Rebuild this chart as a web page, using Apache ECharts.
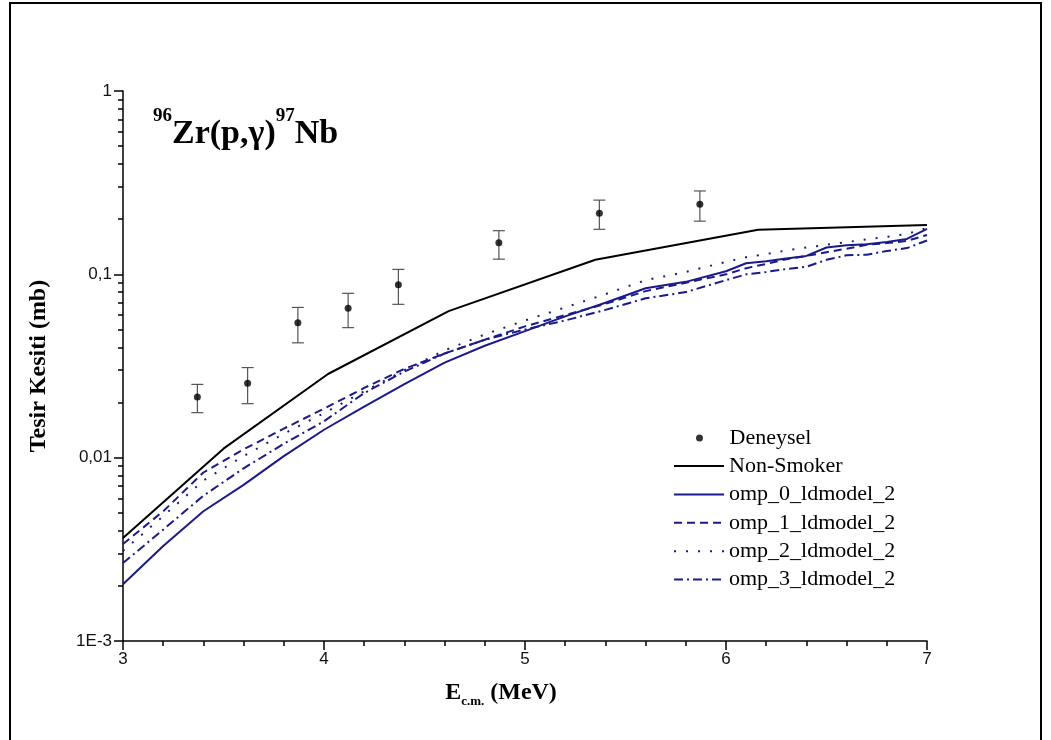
<!DOCTYPE html>
<html>
<head>
<meta charset="utf-8">
<script src="https://cdn.jsdelivr.net/npm/echarts@6/dist/echarts.min.js"></script>
<style>
  html, body { margin: 0; padding: 0; background: #fff; }
  #chart { width: 1051px; height: 740px; }
</style>
</head>
<body>
<div id="chart"></div>
<script>
// deneysel veriler (Deneysel)
var expX = [3.37, 3.62, 3.87, 4.12, 4.37, 4.87, 5.37, 5.87];
var expY = [0.0214, 0.0255, 0.0545, 0.0653, 0.0877, 0.1486, 0.2155, 0.241];
var expLo = [0.0176, 0.0197, 0.0423, 0.0512, 0.0686, 0.121, 0.176, 0.195];
var expHi = [0.0251, 0.031, 0.066, 0.0788, 0.1064, 0.173, 0.254, 0.285];

// Non-Smoker
var nsX = [3.0, 3.5, 4.02, 4.62, 5.35, 6.16, 7.0];
var nsY = [0.00365, 0.0112, 0.0286, 0.063, 0.120, 0.175, 0.186];

// TALYS hesaplari
var talysX = [3.0, 3.2, 3.4, 3.6, 3.8, 4.0, 4.2, 4.4, 4.6, 4.8, 5.0, 5.2, 5.4, 5.6, 5.8, 6.0, 6.1, 6.2, 6.3, 6.4, 6.5, 6.6, 6.7, 6.8, 6.9, 7.0];
var omp0 = [0.00204, 0.0033, 0.0051, 0.0071, 0.0102, 0.0142, 0.0190, 0.0252, 0.0330, 0.0408, 0.0490, 0.0590, 0.0700, 0.0840, 0.0910, 0.1040, 0.1150, 0.1180, 0.1220, 0.1260, 0.1400, 0.1440, 0.1460, 0.1500, 0.1560, 0.1770];
var omp1 = [0.00338, 0.0051, 0.0083, 0.0111, 0.0144, 0.0185, 0.0240, 0.0305, 0.0370, 0.0440, 0.0520, 0.0600, 0.0690, 0.0810, 0.0900, 0.1000, 0.1080, 0.1140, 0.1210, 0.1260, 0.1320, 0.1380, 0.1450, 0.1480, 0.1520, 0.1640];
var omp2 = [0.0031, 0.0048, 0.0075, 0.0102, 0.0135, 0.0175, 0.0230, 0.0300, 0.0385, 0.0470, 0.0560, 0.0660, 0.0780, 0.0930, 0.1030, 0.1170, 0.1240, 0.1290, 0.1350, 0.1400, 0.1450, 0.1500, 0.1550, 0.1600, 0.1660, 0.1790];
var omp3 = [0.00266, 0.00405, 0.0062, 0.00875, 0.0119, 0.0158, 0.0225, 0.0295, 0.0370, 0.0440, 0.0500, 0.0560, 0.0640, 0.0740, 0.0800, 0.0930, 0.1000, 0.1030, 0.1070, 0.1100, 0.1200, 0.1270, 0.1280, 0.1340, 0.1390, 0.1530];

var yMajor = [0.001, 0.01, 0.1, 1];
var yMinor = [0.002, 0.003, 0.004, 0.005, 0.006, 0.007, 0.008, 0.009,
              0.02, 0.03, 0.04, 0.05, 0.06, 0.07, 0.08, 0.09,
              0.2, 0.3, 0.4, 0.5, 0.6, 0.7, 0.8, 0.9];
var yLabels = { 1: '1', 0.1: '0,1', 0.01: '0,01', 0.001: '1E-3' };

var navy = '#1a1a8a';
var serif = '"Liberation Serif", "Times New Roman", serif';
var sans = '"Liberation Sans", Arial, sans-serif';

function zip(xs, ys) {
  return xs.map(function (x, i) { return [x, ys[i]]; });
}

var chart = echarts.init(document.getElementById('chart'));

var option = {
  animation: false,
  backgroundColor: '#fff',
  grid: { left: 123, right: 124, top: 91, bottom: 99 },
  graphic: [
    {
      type: 'rect',
      shape: { x: 10, y: 3, width: 1031, height: 745 },
      style: { fill: 'none', stroke: '#000', lineWidth: 2 },
      silent: true
    },
    {
      type: 'text',
      left: 153,
      top: 107,
      style: {
        text: '{sup|96}{main|Zr(p,γ)}{sup|97}{main|Nb}',
        rich: {
          sup: { fontFamily: serif, fontWeight: 'bold', fontSize: 19, lineHeight: 19, verticalAlign: 'top', fill: '#000' },
          main: { fontFamily: serif, fontWeight: 'bold', fontSize: 34, lineHeight: 54, verticalAlign: 'middle', fill: '#000' }
        }
      }
    }
  ],
  legend: [
    {
      data: ['Deneysel'],
      orient: 'vertical',
      left: 696,
      top: 427,
      padding: 0,
      itemWidth: 50,
      itemHeight: 7,
      itemGap: 8,
      textStyle: { fontFamily: serif, fontSize: 22, color: '#000' }
    },
    {
      data: ['Non-Smoker', 'omp_0_ldmodel_2', 'omp_1_ldmodel_2', 'omp_2_ldmodel_2', 'omp_3_ldmodel_2'],
      orient: 'vertical',
      left: 673,
      top: 455,
      padding: 0,
      itemWidth: 50,
      itemHeight: 14,
      itemGap: 6.4,
      itemStyle: { opacity: 0 },
      textStyle: { fontFamily: serif, fontSize: 22, color: '#000' }
    }
  ],
  xAxis: {
    type: 'value',
    min: 3,
    max: 7,
    interval: 1,
    name: '{b|E}{s|c.m.}{b| (MeV)}',
    nameLocation: 'middle',
    nameGap: 37,
    nameTextStyle: {
      padding: [0, 48, 0, 0],
      rich: {
        b: { fontFamily: serif, fontWeight: 'bold', fontSize: 24, color: '#000', lineHeight: 30, verticalAlign: 'middle' },
        s: { fontFamily: serif, fontWeight: 'bold', fontSize: 13, color: '#000', lineHeight: 13, verticalAlign: 'bottom' }
      }
    },
    axisLine: { show: true, lineStyle: { color: '#000', width: 1.5 } },
    axisTick: { show: true, length: 9, lineStyle: { color: '#000', width: 1.5 } },
    minorTick: { show: true, splitNumber: 5, length: 5, lineStyle: { color: '#000', width: 1.5 } },
    axisLabel: { fontFamily: sans, fontSize: 17, color: '#111', margin: 10 },
    splitLine: { show: false }
  },
  yAxis: [
    {
      type: 'log',
      logBase: 10,
      min: 0.001,
      max: 1,
      name: 'Tesir Kesiti (mb)',
      nameLocation: 'middle',
      nameGap: 72,
      nameTextStyle: { fontFamily: serif, fontWeight: 'bold', fontSize: 24, color: '#000' },
      axisLine: { show: true, lineStyle: { color: '#000', width: 1.5 } },
      axisTick: { show: true, length: 9, customValues: yMajor, lineStyle: { color: '#000', width: 1.5 } },
      axisLabel: {
        fontFamily: sans, fontSize: 17, color: '#111', margin: 11,
        customValues: yMajor,
        formatter: function (v) {
          var k = Math.round(Math.log10(v));
          return yLabels[Math.pow(10, k)] || String(v);
        }
      },
      splitLine: { show: false }
    },
    {
      type: 'log',
      logBase: 10,
      min: 0.001,
      max: 1,
      position: 'left',
      axisLine: { show: false },
      axisTick: { show: true, length: 5, customValues: yMinor, lineStyle: { color: '#000', width: 1.5 } },
      axisLabel: { show: false },
      splitLine: { show: false }
    }
  ],
  series: [
    {
      name: 'Deneysel',
      type: 'scatter',
      symbol: 'circle',
      symbolSize: 7,
      itemStyle: { color: '#000' },
      data: zip(expX, expY),
      z: 5
    },
    {
      name: 'hata',
      type: 'custom',
      data: expX.map(function (x, i) { return [x, expLo[i], expHi[i]]; }),
      renderItem: function (params, api) {
        var lo = api.coord([api.value(0), api.value(1)]);
        var hi = api.coord([api.value(0), api.value(2)]);
        var w = 6;
        var st = { stroke: '#555', lineWidth: 1.2 };
        return {
          type: 'group',
          children: [
            { type: 'line', shape: { x1: lo[0], y1: lo[1], x2: hi[0], y2: hi[1] }, style: st },
            { type: 'line', shape: { x1: lo[0] - w, y1: lo[1], x2: lo[0] + w, y2: lo[1] }, style: st },
            { type: 'line', shape: { x1: hi[0] - w, y1: hi[1], x2: hi[0] + w, y2: hi[1] }, style: st }
          ]
        };
      },
      z: 4
    },
    {
      name: 'Non-Smoker',
      type: 'line',
      symbol: 'none',
      color: '#000',
      lineStyle: { color: '#000', width: 2 },
      data: zip(nsX, nsY)
    },
    {
      name: 'omp_0_ldmodel_2',
      type: 'line',
      symbol: 'none',
      color: navy,
      lineStyle: { color: navy, width: 2 },
      data: zip(talysX, omp0)
    },
    {
      name: 'omp_1_ldmodel_2',
      type: 'line',
      symbol: 'none',
      color: navy,
      lineStyle: { color: navy, width: 2, type: [8, 5] },
      data: zip(talysX, omp1)
    },
    {
      name: 'omp_2_ldmodel_2',
      type: 'line',
      symbol: 'none',
      color: navy,
      lineStyle: { color: navy, width: 2, type: [2, 10] },
      data: zip(talysX, omp2)
    },
    {
      name: 'omp_3_ldmodel_2',
      type: 'line',
      symbol: 'none',
      color: navy,
      lineStyle: { color: navy, width: 2, type: [9, 4, 2, 4] },
      data: zip(talysX, omp3)
    }
  ]
};

chart.setOption(option);
</script>
</body>
</html>
